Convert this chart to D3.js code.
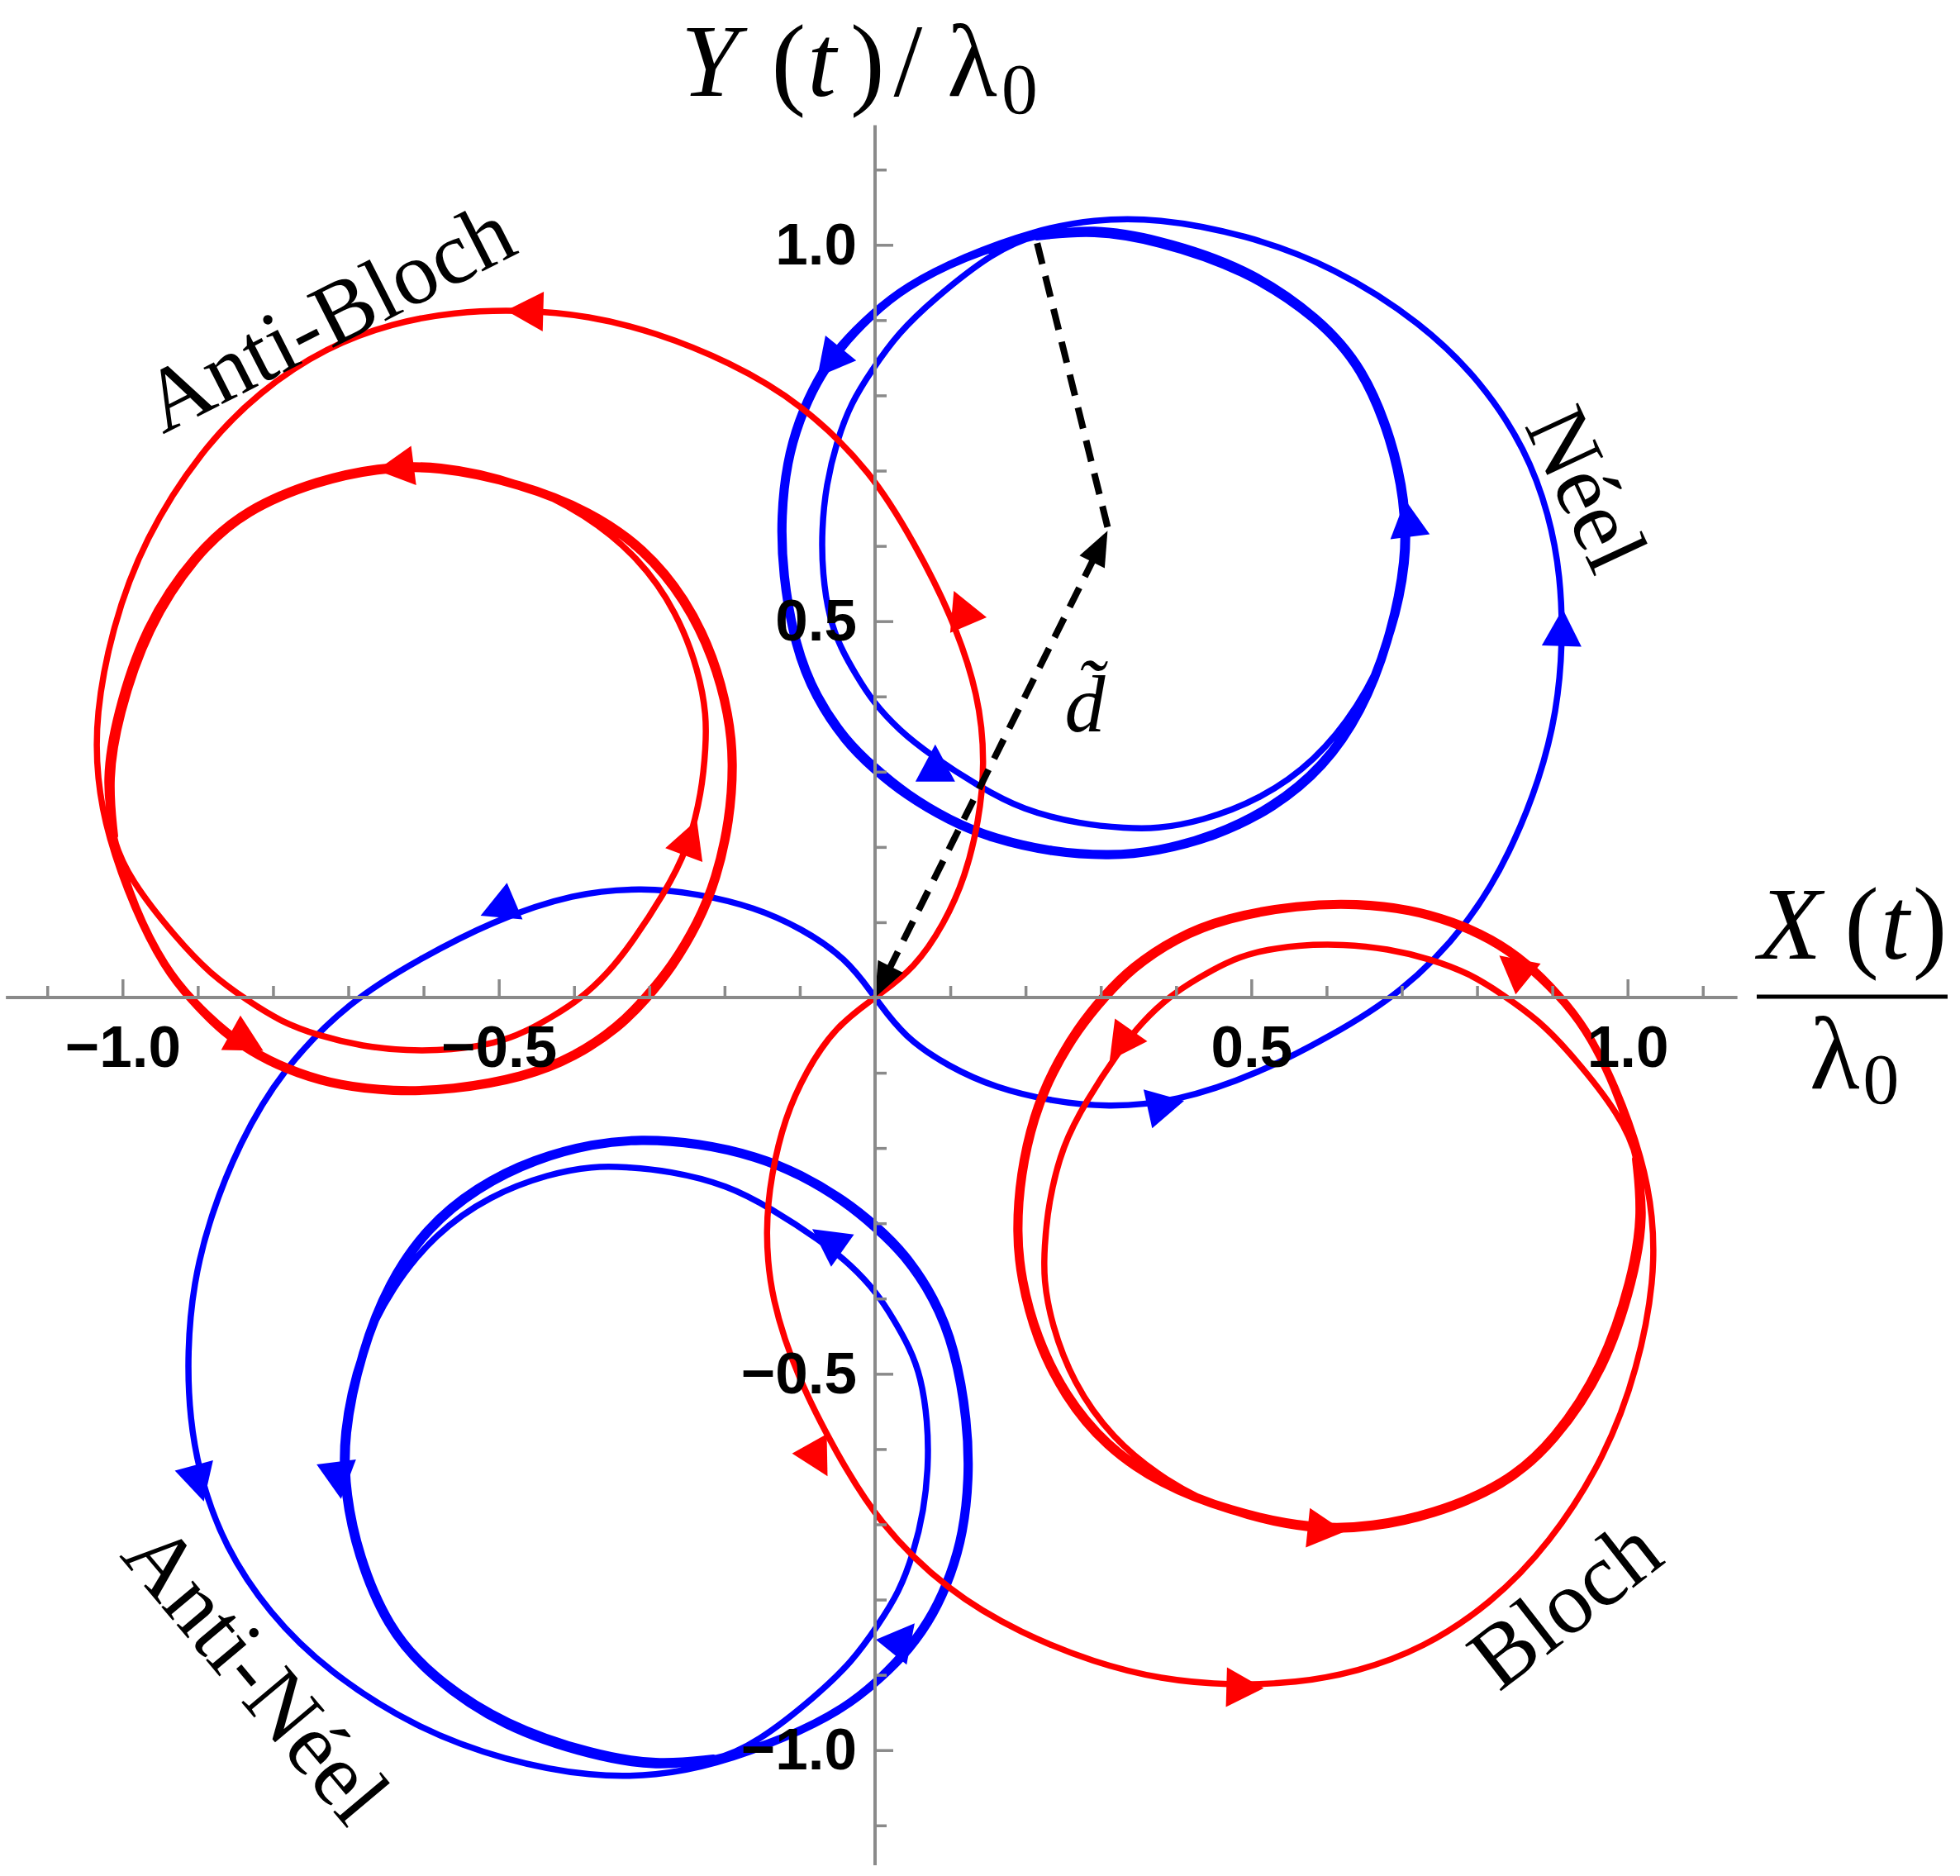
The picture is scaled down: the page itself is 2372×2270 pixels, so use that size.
<!DOCTYPE html>
<html>
<head>
<meta charset="utf-8">
<script src="https://cdn.jsdelivr.net/npm/d3@7/dist/d3.min.js"></script>
<style>
  html, body { margin: 0; padding: 0; background: #fff; }
  svg { display: block; }
</style>
</head>
<body>
<svg id="chart" width="2372" height="2270"></svg>
<script>
// trajectories, in units of lambda_0, in time order
const neel = [
  [0,0],[0.039,-0.053],[0.098,-0.092],[0.16,-0.12],[0.235,-0.138],[0.308,-0.146],[0.40,-0.139],[0.51,-0.101],
  [0.604,-0.052],[0.698,0.004],[0.79,0.098],[0.845,0.194],[0.884,0.292],[0.906,0.38],[0.914,0.47],[0.911,0.56],
  [0.896,0.641],[0.865,0.728],[0.806,0.818],[0.727,0.896],[0.61,0.971],[0.492,1.014],[0.374,1.036],[0.29,1.034],
  [0.215,1.02],[0.117,0.985],[0.039,0.945],[-0.004,0.91],[-0.048,0.867],[-0.08,0.82],[-0.103,0.768],[-0.119,0.712],
  [-0.127,0.641],[-0.125,0.563],[-0.108,0.465],[-0.081,0.398],[-0.041,0.339],[-0.004,0.303],[0.039,0.268],[0.098,0.233],
  [0.156,0.209],[0.235,0.191],[0.313,0.186],[0.374,0.192],[0.453,0.212],[0.531,0.25],[0.598,0.305],[0.648,0.378],
  [0.684,0.469],[0.708,0.583],[0.704,0.661],[0.688,0.739],[0.649,0.837],[0.59,0.904],[0.492,0.97],[0.374,1.008],
  [0.29,1.022],[0.215,1.016],[0.156,0.99],[0.078,0.928],[0.03,0.882],[-0.004,0.834],[-0.032,0.79],[-0.051,0.739],
  [-0.065,0.681],[-0.071,0.622],[-0.07,0.563],[-0.061,0.504],[-0.046,0.465],[-0.025,0.428],[-0.003,0.393],[0.032,0.355],
  [0.074,0.322],[0.137,0.281],[0.196,0.249],[0.274,0.23],[0.333,0.225],[0.374,0.224],[0.433,0.234],[0.512,0.263],
  [0.585,0.314],[0.642,0.385],[0.685,0.469],[0.71,0.583],[0.706,0.661],[0.69,0.739],[0.651,0.837],[0.592,0.904],
  [0.494,0.972],[0.374,1.01],[0.29,1.024],[0.215,1.014],[0.117,0.983],
  [0.039,0.942],[-0.004,0.906],[-0.046,0.862],[-0.077,0.816],[-0.099,0.766],[-0.115,0.712],[-0.123,0.641],[-0.121,0.563],
  [-0.104,0.467],[-0.077,0.40],[-0.037,0.342],[0,0.307],[0.042,0.272],[0.1,0.237],[0.158,0.213],[0.236,0.195],
  [0.313,0.19],[0.374,0.196],[0.45,0.216],[0.528,0.254],[0.594,0.308],[0.644,0.38],[0.681,0.47],[0.705,0.585],
  [0.701,0.661],[0.685,0.739],[0.646,0.836],[0.587,0.902],[0.49,0.966],[0.374,1.004],[0.29,1.018],[0.215,1.01]
];

const bloch = [
  [0,0],[-0.053,-0.039],[-0.092,-0.098],[-0.12,-0.16],[-0.138,-0.235],[-0.146,-0.308],[-0.139,-0.40],[-0.101,-0.51],
  [-0.052,-0.604],[0.004,-0.698],[0.098,-0.79],[0.194,-0.845],[0.292,-0.884],[0.38,-0.906],[0.47,-0.914],[0.56,-0.911],
  [0.641,-0.896],[0.728,-0.865],[0.818,-0.806],[0.896,-0.727],[0.971,-0.61],[1.014,-0.492],[1.036,-0.374],[1.034,-0.29],
  [1.02,-0.215],[0.985,-0.117],[0.945,-0.039],[0.91,0.004],[0.867,0.048],[0.82,0.08],[0.768,0.103],[0.712,0.119],
  [0.641,0.127],[0.563,0.125],[0.465,0.108],[0.398,0.081],[0.339,0.041],[0.303,0.004],[0.268,-0.039],[0.233,-0.098],
  [0.209,-0.156],[0.191,-0.235],[0.186,-0.313],[0.192,-0.374],[0.212,-0.453],[0.25,-0.531],[0.305,-0.598],[0.378,-0.648],
  [0.469,-0.684],[0.583,-0.708],[0.661,-0.704],[0.739,-0.688],[0.837,-0.649],[0.904,-0.59],[0.97,-0.492],[1.008,-0.374],
  [1.022,-0.29],[1.016,-0.215],[0.99,-0.156],[0.928,-0.078],[0.882,-0.03],[0.834,0.004],[0.79,0.032],[0.739,0.051],
  [0.681,0.065],[0.622,0.071],[0.563,0.07],[0.504,0.061],[0.465,0.046],[0.428,0.025],[0.393,0.003],[0.355,-0.032],
  [0.322,-0.074],[0.281,-0.137],[0.249,-0.196],[0.23,-0.274],[0.225,-0.333],[0.224,-0.374],[0.234,-0.433],[0.263,-0.512],
  [0.314,-0.585],[0.385,-0.642],[0.469,-0.685],[0.583,-0.71],[0.661,-0.706],[0.739,-0.69],[0.837,-0.651],[0.904,-0.592],
  [0.972,-0.494],[1.01,-0.374],[1.024,-0.29],[1.014,-0.215],[0.983,-0.117],
  [0.942,-0.039],[0.906,0.004],[0.862,0.046],[0.816,0.077],[0.766,0.099],[0.712,0.115],[0.641,0.123],[0.563,0.121],
  [0.467,0.104],[0.40,0.077],[0.342,0.037],[0.307,0],[0.272,-0.042],[0.237,-0.1],[0.213,-0.158],[0.195,-0.236],
  [0.19,-0.313],[0.196,-0.374],[0.216,-0.45],[0.254,-0.528],[0.308,-0.594],[0.38,-0.644],[0.47,-0.681],[0.585,-0.705],
  [0.661,-0.701],[0.739,-0.685],[0.836,-0.646],[0.902,-0.587],[0.966,-0.49],[1.004,-0.374],[1.018,-0.29],[1.01,-0.215]
];

const antiNeel = [
  [0,0],[-0.039,0.053],[-0.098,0.092],[-0.16,0.12],[-0.235,0.138],[-0.308,0.146],[-0.40,0.139],[-0.51,0.101],
  [-0.604,0.052],[-0.698,-0.004],[-0.79,-0.098],[-0.845,-0.194],[-0.884,-0.292],[-0.906,-0.38],[-0.914,-0.47],[-0.911,-0.56],
  [-0.896,-0.641],[-0.865,-0.728],[-0.806,-0.818],[-0.727,-0.896],[-0.61,-0.971],[-0.492,-1.014],[-0.374,-1.036],[-0.29,-1.034],
  [-0.215,-1.02],[-0.117,-0.985],[-0.039,-0.945],[0.004,-0.91],[0.048,-0.867],[0.08,-0.82],[0.103,-0.768],[0.119,-0.712],
  [0.127,-0.641],[0.125,-0.563],[0.108,-0.465],[0.081,-0.398],[0.041,-0.339],[0.004,-0.303],[-0.039,-0.268],[-0.098,-0.233],
  [-0.156,-0.209],[-0.235,-0.191],[-0.313,-0.186],[-0.374,-0.192],[-0.453,-0.212],[-0.531,-0.25],[-0.598,-0.305],[-0.648,-0.378],
  [-0.684,-0.469],[-0.708,-0.583],[-0.704,-0.661],[-0.688,-0.739],[-0.649,-0.837],[-0.59,-0.904],[-0.492,-0.97],[-0.374,-1.008],
  [-0.29,-1.022],[-0.215,-1.016],[-0.156,-0.99],[-0.078,-0.928],[-0.03,-0.882],[0.004,-0.834],[0.032,-0.79],[0.051,-0.739],
  [0.065,-0.681],[0.071,-0.622],[0.07,-0.563],[0.061,-0.504],[0.046,-0.465],[0.025,-0.428],[0.003,-0.393],[-0.032,-0.355],
  [-0.074,-0.322],[-0.137,-0.281],[-0.196,-0.249],[-0.274,-0.23],[-0.333,-0.225],[-0.374,-0.224],[-0.433,-0.234],[-0.512,-0.263],
  [-0.585,-0.314],[-0.642,-0.385],[-0.685,-0.469],[-0.71,-0.583],[-0.706,-0.661],[-0.69,-0.739],[-0.651,-0.837],[-0.592,-0.904],
  [-0.494,-0.972],[-0.374,-1.01],[-0.29,-1.024],[-0.215,-1.014],[-0.117,-0.983],
  [-0.039,-0.942],[0.004,-0.906],[0.046,-0.862],[0.077,-0.816],[0.099,-0.766],[0.115,-0.712],[0.123,-0.641],[0.121,-0.563],
  [0.104,-0.467],[0.077,-0.40],[0.037,-0.342],[0,-0.307],[-0.042,-0.272],[-0.1,-0.237],[-0.158,-0.213],[-0.236,-0.195],
  [-0.313,-0.19],[-0.374,-0.196],[-0.45,-0.216],[-0.528,-0.254],[-0.594,-0.308],[-0.644,-0.38],[-0.681,-0.47],[-0.705,-0.585],
  [-0.701,-0.661],[-0.685,-0.739],[-0.646,-0.836],[-0.587,-0.902],[-0.49,-0.966],[-0.374,-1.004],[-0.29,-1.018],[-0.215,-1.01]
];

const antiBloch = [
  [0,0],[0.053,0.039],[0.092,0.098],[0.12,0.16],[0.138,0.235],[0.146,0.308],[0.139,0.40],[0.101,0.51],
  [0.052,0.604],[-0.004,0.698],[-0.098,0.79],[-0.194,0.845],[-0.292,0.884],[-0.38,0.906],[-0.47,0.914],[-0.56,0.911],
  [-0.641,0.896],[-0.728,0.865],[-0.818,0.806],[-0.896,0.727],[-0.971,0.61],[-1.014,0.492],[-1.036,0.374],[-1.034,0.29],
  [-1.02,0.215],[-0.985,0.117],[-0.945,0.039],[-0.91,-0.004],[-0.867,-0.048],[-0.82,-0.08],[-0.768,-0.103],[-0.712,-0.119],
  [-0.641,-0.127],[-0.563,-0.125],[-0.465,-0.108],[-0.398,-0.081],[-0.339,-0.041],[-0.303,-0.004],[-0.268,0.039],[-0.233,0.098],
  [-0.209,0.156],[-0.191,0.235],[-0.186,0.313],[-0.192,0.374],[-0.212,0.453],[-0.25,0.531],[-0.305,0.598],[-0.378,0.648],
  [-0.469,0.684],[-0.583,0.708],[-0.661,0.704],[-0.739,0.688],[-0.837,0.649],[-0.904,0.59],[-0.97,0.492],[-1.008,0.374],
  [-1.022,0.29],[-1.016,0.215],[-0.99,0.156],[-0.928,0.078],[-0.882,0.03],[-0.834,-0.004],[-0.79,-0.032],[-0.739,-0.051],
  [-0.681,-0.065],[-0.622,-0.071],[-0.563,-0.07],[-0.504,-0.061],[-0.465,-0.046],[-0.428,-0.025],[-0.393,-0.003],[-0.355,0.032],
  [-0.322,0.074],[-0.281,0.137],[-0.249,0.196],[-0.23,0.274],[-0.225,0.333],[-0.224,0.374],[-0.234,0.433],[-0.263,0.512],
  [-0.314,0.585],[-0.385,0.642],[-0.469,0.685],[-0.583,0.71],[-0.661,0.706],[-0.739,0.69],[-0.837,0.651],[-0.904,0.592],
  [-0.972,0.494],[-1.01,0.374],[-1.024,0.29],[-1.014,0.215],[-0.983,0.117],
  [-0.942,0.039],[-0.906,-0.004],[-0.862,-0.046],[-0.816,-0.077],[-0.766,-0.099],[-0.712,-0.115],[-0.641,-0.123],[-0.563,-0.121],
  [-0.467,-0.104],[-0.40,-0.077],[-0.342,-0.037],[-0.307,0],[-0.272,0.042],[-0.237,0.1],[-0.213,0.158],[-0.195,0.236],
  [-0.19,0.313],[-0.196,0.374],[-0.216,0.45],[-0.254,0.528],[-0.308,0.594],[-0.38,0.644],[-0.47,0.681],[-0.585,0.705],
  [-0.661,0.701],[-0.739,0.685],[-0.836,0.646],[-0.902,0.587],[-0.966,0.49],[-1.004,0.374],[-1.018,0.29],[-1.01,0.215]
];

// where the direction arrowheads sit on each curve; an optional third
// value is a screen heading (deg) where the drawn head does not follow the curve
const neelArrows = [[-0.06,0.845],[0.08,0.31,-90],[0.708,0.635],[0.913,0.49],[0.385,-0.143]];
const blochArrows = [[0.85,0.039],[0.327,-0.062],[0.598,-0.707],[0.49,-0.917],[-0.076,-0.613]];
const antiNeelArrows = [[-0.899,-0.644],[-0.713,-0.64],[-0.062,-0.323],[0.036,-0.852],[-0.5,0.119]];
const antiBlochArrows = [[-0.464,0.912],[-0.636,0.704],[-0.246,0.211],[-0.836,-0.058],[0.115,0.516]];

// guiding centre construction: d~ from the origin, radius up to the orbit
const dVector = [[0,0],[0.309,0.62]];
const radiusLine = [[0.309,0.625],[0.213,1.012]];
const dLabelAt = [0.279, 0.354];

const minorTicks = [-1.1,-0.9,-0.8,-0.7,-0.6,-0.4,-0.3,-0.2,-0.1,0.1,0.2,0.3,0.4,0.6,0.7,0.8,0.9,1.1];
const majorTicks = [-1.0,-0.5,0.5,1.0];
const xAxisRange = [-1.155, 1.146];
const yAxisRange = [-1.153, 1.159];

const curveLabels = [
  { text: "Néel", at: [0.946, 0.676], angle: 65 },
  { text: "Anti-Bloch", at: [-0.727, 0.905], angle: -27 },
  { text: "Bloch", at: [0.916, -0.805], angle: -38 },
  { text: "Anti-Néel", at: [-0.822, -0.898], angle: 50 },
];

const BLUE = "#0000ff";
const RED = "#ff0000";
const series = [
  { points: neel, arrows: neelArrows, color: BLUE },
  { points: antiNeel, arrows: antiNeelArrows, color: BLUE },
  { points: bloch, arrows: blochArrows, color: RED },
  { points: antiBloch, arrows: antiBlochArrows, color: RED },
];

const ORIGIN = [1059, 1207];
const UNIT = 910.7;
const x = d3.scaleLinear().domain([0, 1]).range([ORIGIN[0], ORIGIN[0] + UNIT]);
const y = d3.scaleLinear().domain([0, 1]).range([ORIGIN[1], ORIGIN[1] - UNIT]);

const svg = d3.select("#chart");
svg.append("rect").attr("width", 2372).attr("height", 2270).attr("fill", "#fff");

const line = d3.line()
  .x((d) => x(d[0]))
  .y((d) => y(d[1]))
  .curve(d3.curveBasis);

const curves = svg.append("g").attr("class", "curves");
for (const s of series) {
  curves.append("path")
    .attr("d", line(s.points))
    .attr("fill", "none")
    .attr("stroke", s.color)
    .attr("stroke-width", 7.5)
    .attr("stroke-linejoin", "round")
    .attr("stroke-linecap", "round");
}

// arrowheads follow the local direction of the curve
function headingAt(points, arrow) {
  const [ax, ay, fixed] = arrow;
  if (fixed !== undefined) {
    return fixed;
  }
  let best = 0;
  let bestDist = Infinity;
  points.forEach(([px, py], i) => {
    const dist = (px - ax) ** 2 + (py - ay) ** 2;
    if (dist < bestDist) {
      bestDist = dist;
      best = i;
    }
  });
  const a = points[Math.max(best - 1, 0)];
  const b = points[Math.min(best + 1, points.length - 1)];
  return Math.atan2(y(b[1]) - y(a[1]), x(b[0]) - x(a[0])) * 180 / Math.PI;
}

const arrowLayer = svg.append("g").attr("class", "arrows");
for (const s of series) {
  arrowLayer.selectAll(null)
    .data(s.arrows)
    .join("path")
    .attr("d", "M24,0 L-21,-24 L-21,24 Z")
    .attr("fill", s.color)
    .attr("transform", (d) =>
      `translate(${x(d[0])},${y(d[1])}) rotate(${headingAt(s.points, d)})`);
}

// dashed construction lines
const DASH = "26,15";
function blackHead(tip, from) {
  const ang = Math.atan2(y(tip[1]) - y(from[1]), x(tip[0]) - x(from[0])) * 180 / Math.PI;
  svg.append("path")
    .attr("d", "M0,0 L-42,-17 L-42,17 Z")
    .attr("fill", "#000")
    .attr("transform", `translate(${x(tip[0])},${y(tip[1])}) rotate(${ang})`);
}

{
  const [p0, p1] = dVector;
  const len = Math.hypot(x(p1[0]) - x(p0[0]), y(p1[1]) - y(p0[1]));
  const ux = (x(p1[0]) - x(p0[0])) / len;
  const uy = (y(p1[1]) - y(p0[1])) / len;
  svg.append("line")
    .attr("x1", x(p0[0]) + ux * 36).attr("y1", y(p0[1]) + uy * 36)
    .attr("x2", x(p1[0]) - ux * 36).attr("y2", y(p1[1]) - uy * 36)
    .attr("stroke", "#000")
    .attr("stroke-width", 8)
    .attr("stroke-dasharray", DASH);
  blackHead(p0, p1);
  blackHead(p1, p0);
}
svg.append("line")
  .attr("x1", x(radiusLine[0][0])).attr("y1", y(radiusLine[0][1]))
  .attr("x2", x(radiusLine[1][0])).attr("y2", y(radiusLine[1][1]))
  .attr("stroke", "#000")
  .attr("stroke-width", 8)
  .attr("stroke-dasharray", DASH);

// axes
const AXIS_GRAY = "#8a8a8a";
svg.append("line")
  .attr("x1", x(xAxisRange[0])).attr("x2", x(xAxisRange[1]))
  .attr("y1", y(0)).attr("y2", y(0))
  .attr("stroke", AXIS_GRAY).attr("stroke-width", 4);
svg.append("line")
  .attr("x1", x(0)).attr("x2", x(0))
  .attr("y1", y(yAxisRange[0])).attr("y2", y(yAxisRange[1]))
  .attr("stroke", AXIS_GRAY).attr("stroke-width", 4);

function styleTicks(g) {
  g.select(".domain").remove();
  g.selectAll(".tick line").attr("stroke", AXIS_GRAY).attr("stroke-width", 3.5);
}

svg.append("g").attr("transform", `translate(0,${y(0)})`)
  .call(d3.axisTop(x).tickValues(minorTicks).tickSize(14).tickFormat(""))
  .call(styleTicks);
svg.append("g").attr("transform", `translate(0,${y(0)})`)
  .call(d3.axisTop(x).tickValues(majorTicks).tickSize(22).tickFormat(""))
  .call(styleTicks);
svg.append("g").attr("transform", `translate(${x(0)},0)`)
  .call(d3.axisRight(y).tickValues(minorTicks).tickSize(14).tickFormat(""))
  .call(styleTicks);
svg.append("g").attr("transform", `translate(${x(0)},0)`)
  .call(d3.axisRight(y).tickValues(majorTicks).tickSize(22).tickFormat(""))
  .call(styleTicks);

const fmt = d3.format(".1f");
function styleLabels(g) {
  g.select(".domain").remove();
  g.attr("font-family", "'Liberation Sans', Arial, sans-serif")
    .attr("font-size", 71)
    .attr("font-weight", "bold");
  g.selectAll(".tick text").attr("fill", "#000");
}
svg.append("g").attr("transform", `translate(0,${y(0)})`)
  .call(d3.axisBottom(x).tickValues(majorTicks).tickSize(0).tickPadding(34).tickFormat(fmt))
  .call(styleLabels);
svg.append("g").attr("transform", `translate(${x(0)},0)`)
  .call(d3.axisLeft(y).tickValues(majorTicks).tickSize(0).tickPadding(22).tickFormat(fmt))
  .call(styleLabels);

// axis titles, set like TeX math: glyphs flow with extra gaps
const SERIF = "'Liberation Serif', 'Times New Roman', serif";
function mathText(x0, baseline, size, parts) {
  const t = svg.append("text")
    .attr("x", x0)
    .attr("y", baseline)
    .attr("font-family", SERIF)
    .attr("font-size", size)
    .attr("fill", "#000");
  for (const p of parts) {
    const s = t.append("tspan")
      .attr("dx", p.dx || 0)
      .attr("font-style", p.italic ? "italic" : "normal")
      .text(p.c);
    if (p.sub) {
      s.attr("font-size", size * 0.7).attr("dy", p.sub);
    }
  }
}

mathText(824, 116, 125, [
  { c: "Y", italic: true },
  { c: "(", dx: 40 },
  { c: "t", dx: 2, italic: true },
  { c: ")", dx: 17 },
  { c: "/", dx: 11 },
  { c: "λ", dx: 30 },
  { c: "0", dx: 5, sub: 21 },
]);

mathText(2128, 1160, 125, [
  { c: "X", italic: true },
  { c: "(", dx: 28 },
  { c: "t", dx: 2, italic: true },
  { c: ")", dx: 4 },
]);

svg.append("line")
  .attr("x1", 2126).attr("x2", 2357)
  .attr("y1", 1206).attr("y2", 1206)
  .attr("stroke", "#000").attr("stroke-width", 5);

mathText(2190, 1317, 125, [
  { c: "λ" },
  { c: "0", dx: 4, sub: 18 },
]);

// curve names
svg.append("g")
  .selectAll("text")
  .data(curveLabels)
  .join("text")
  .attr("font-family", SERIF)
  .attr("font-size", 108)
  .attr("text-anchor", "middle")
  .attr("dominant-baseline", "central")
  .attr("fill", "#000")
  .attr("transform", (d) => `translate(${x(d.at[0])},${y(d.at[1])}) rotate(${d.angle})`)
  .text((d) => d.text);

// d with a tilde (combining mark, single text)
svg.append("text")
  .attr("x", x(dLabelAt[0]))
  .attr("y", y(dLabelAt[1]))
  .attr("text-anchor", "middle")
  .attr("font-family", SERIF)
  .attr("font-style", "italic")
  .attr("font-size", 98)
  .attr("fill", "#000")
  .text("d\u0303");
</script>
</body>
</html>
